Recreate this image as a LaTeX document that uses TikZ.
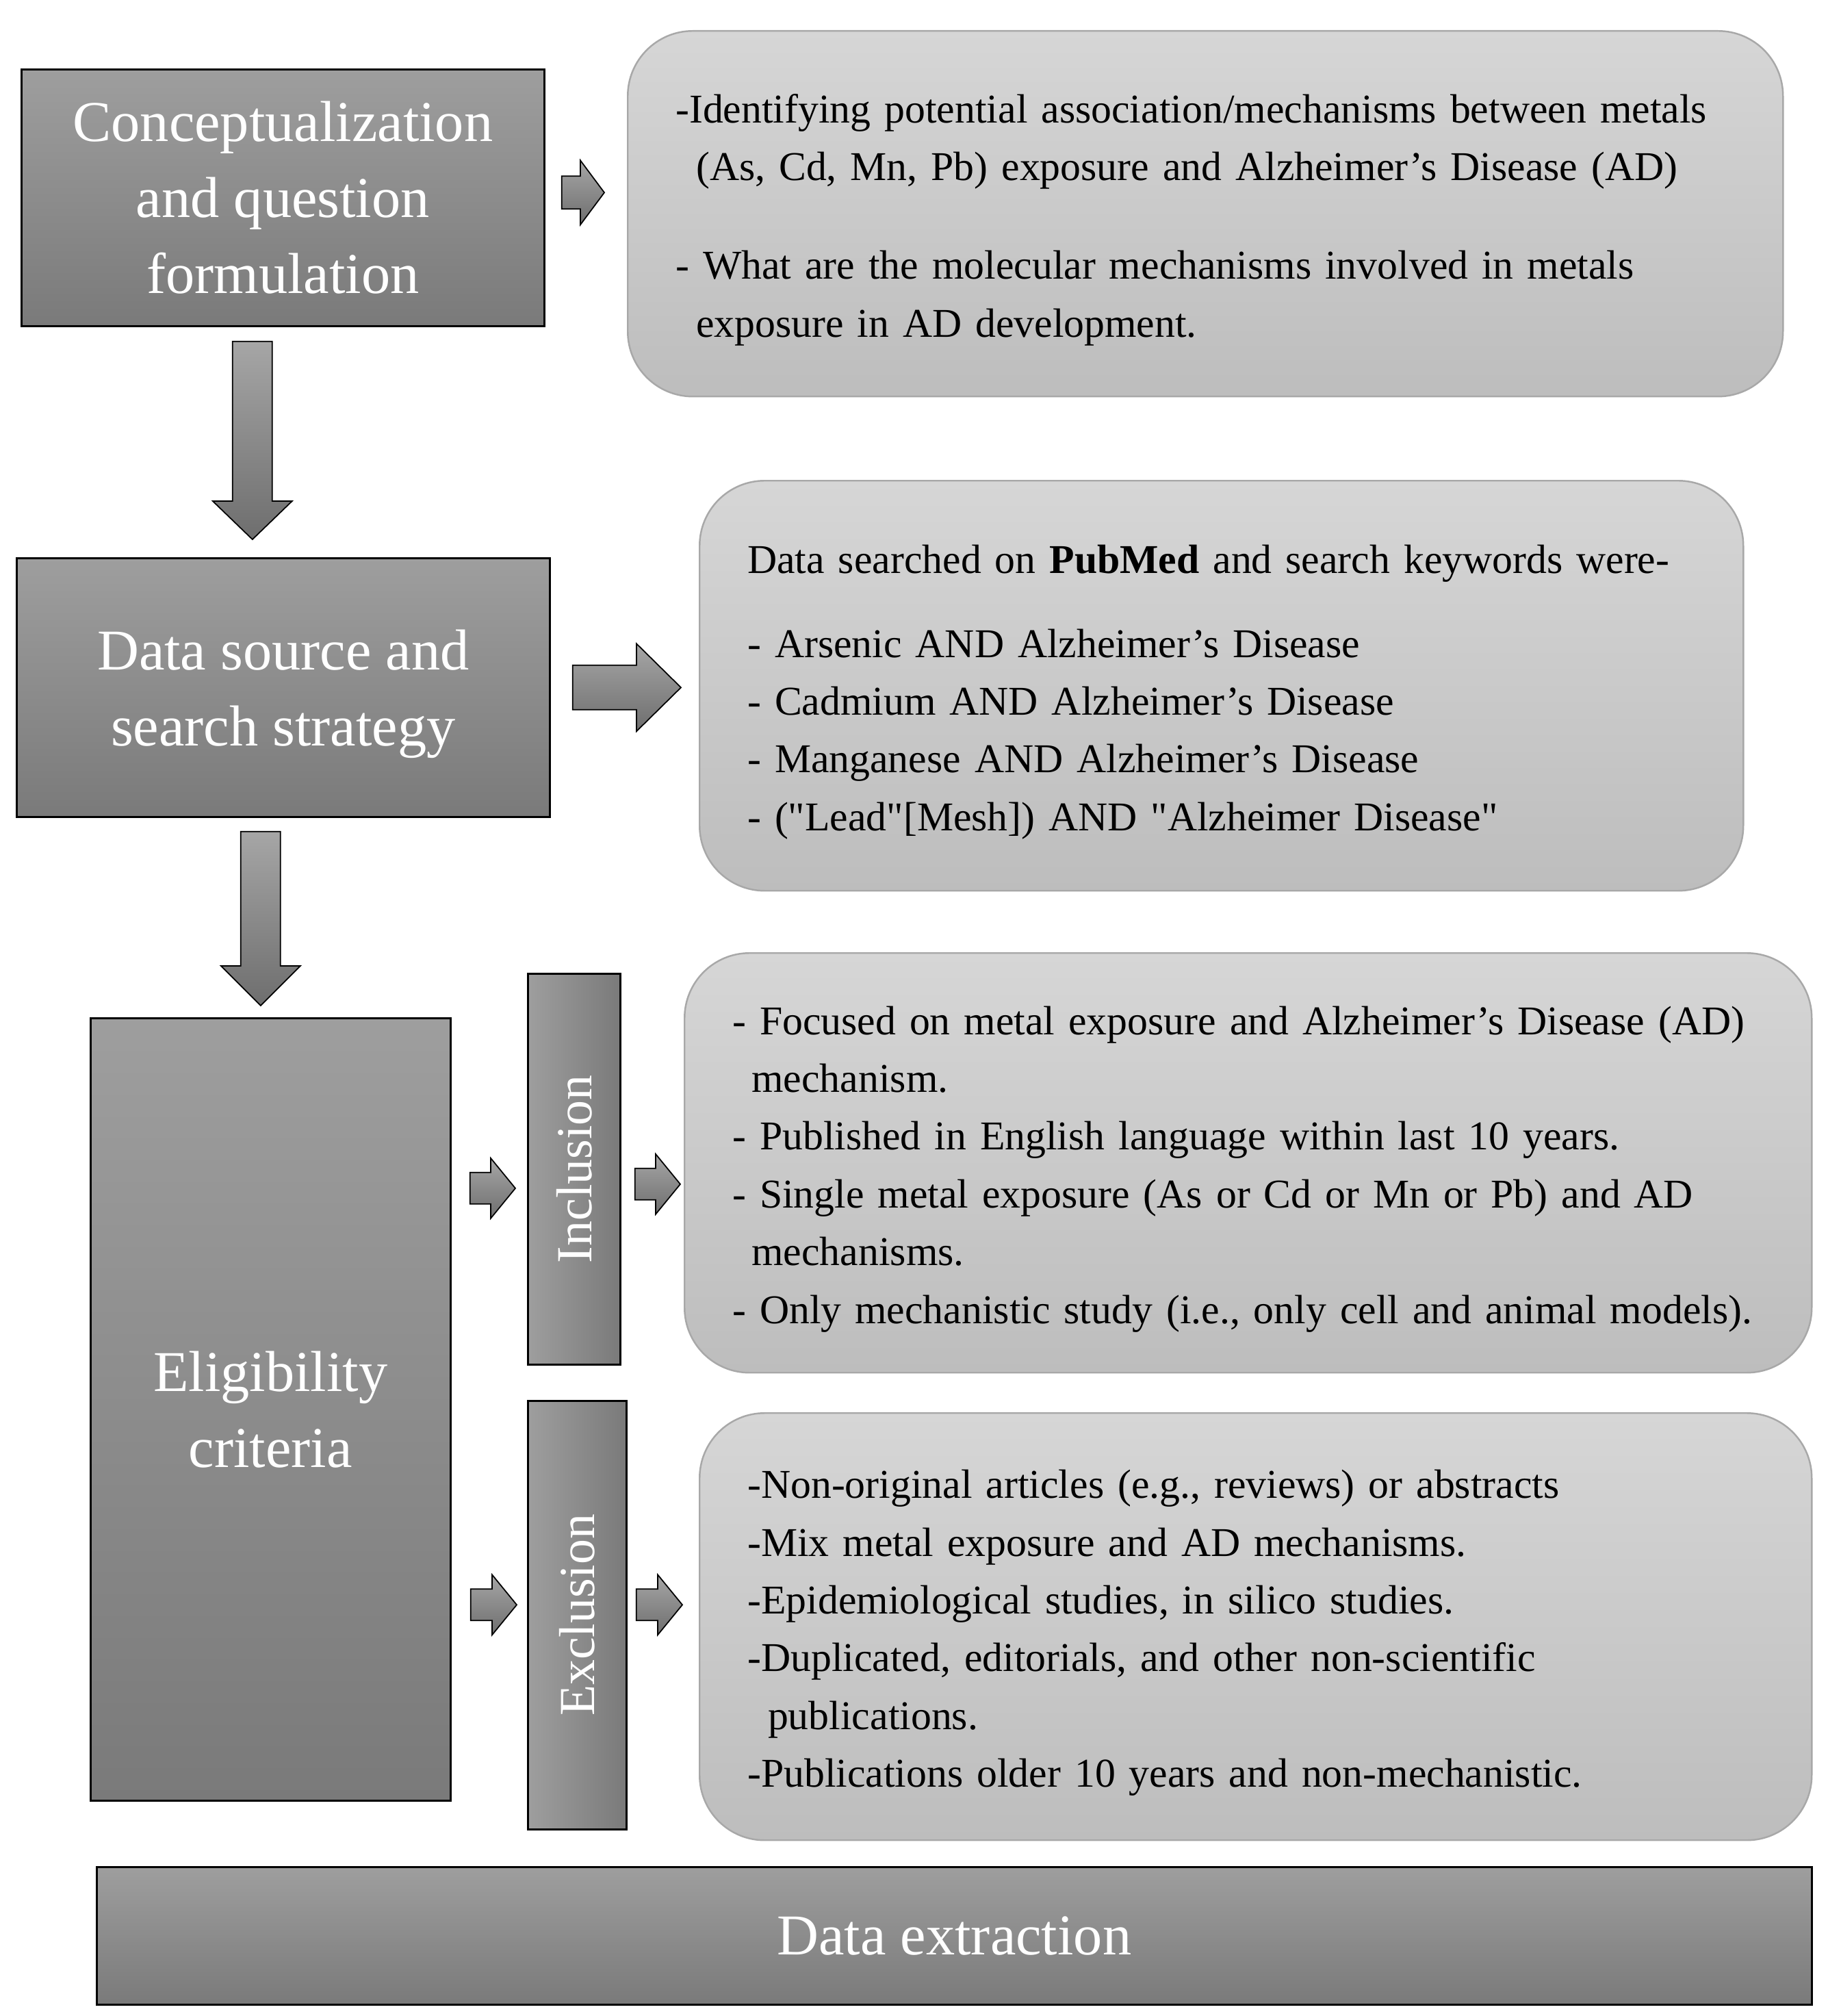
\documentclass[tikz,border=0pt]{standalone}
\usepackage{fontspec}
\setmainfont{Liberation Serif}
\newfontfamily\plainserif{Liberation Serif}
\usepackage{graphicx}
\usetikzlibrary{calc}

\definecolor{stagetop}{HTML}{9E9E9E}
\definecolor{stagebot}{HTML}{7A7A7A}
\definecolor{notetop}{HTML}{D6D6D6}
\definecolor{notebot}{HTML}{BDBDBD}
\definecolor{noteline}{HTML}{A8A8A8}
\definecolor{arrowtop}{HTML}{A6A6A6}
\definecolor{arrowbot}{HTML}{6E6E6E}

\begin{document}
\begin{tikzpicture}[
      stage/.style={draw=black, line width=0.75pt, top color=stagetop,
        bottom color=stagebot, text=white, align=center, inner sep=0pt,
        anchor=north west, font=\fontsize{24}{31.5}\selectfont},
      side/.style={draw=black, line width=0.75pt, left color=stagetop,
        right color=stagebot, text=white, inner sep=0pt,
        anchor=north west, font=\fontsize{21}{25}\selectfont},
      note/.style={draw=noteline, line width=0.7pt, rounded corners=0.95cm,
        top color=notetop, bottom color=notebot, align=left,
        inner xsep=0.7cm, inner ysep=0pt, anchor=north west,
        font=\fontsize{17}{24}\selectfont,
        execute at begin node={\rule{0pt}{17pt}}},
      arrowbody/.style={draw=black, line width=0.5pt, top color=arrowtop,
        bottom color=arrowbot},
      % #1 shaft width, #2 head width, #3 head length
      rightarrow/.style n args={3}{arrowbody, to path={
          let \p1=(\tikztostart), \p2=(\tikztotarget) in
          (\x1,\y1+#1/2) -- (\x2-#3,\y1+#1/2) -- (\x2-#3,\y1+#2/2) -- (\x2,\y1)
          -- (\x2-#3,\y1-#2/2) -- (\x2-#3,\y1-#1/2) -- (\x1,\y1-#1/2) -- cycle}},
      downarrow/.style n args={3}{arrowbody, to path={
          let \p1=(\tikztostart), \p2=(\tikztotarget) in
          (\x1-#1/2,\y1) -- (\x1-#1/2,\y2+#3) -- (\x1-#2/2,\y2+#3) -- (\x1,\y2)
          -- (\x1+#2/2,\y2+#3) -- (\x1+#1/2,\y2+#3) -- (\x1+#1/2,\y1) -- cycle}}]
    \useasboundingbox (0,0) rectangle (26.70,-29.45);

    % left column
    \node[stage, minimum width=7.64cm, minimum height=3.75cm] (concept)
      at (0.30,-1.00) {Conceptualization\\and question\\formulation};
    \node[stage, minimum width=7.79cm, minimum height=3.78cm] (source)
      at (0.23,-8.14) {\rule{0pt}{22pt}Data source and\\search strategy};
    \node[stage, minimum width=5.26cm, minimum height=11.43cm] (elig)
      at (1.31,-14.86) {Eligibility\\criteria};
    \node[side, minimum width=1.35cm, minimum height=5.71cm] (incl)
      at (7.70,-14.21) {\rotatebox{90}{Inclusion}};
    \node[side, minimum width=1.44cm, minimum height=6.26cm] (excl)
      at (7.70,-20.45) {\rotatebox{90}{Exclusion}};
    \node[stage, minimum width=25.06cm, minimum height=2.01cm] (extract)
      at (1.40,-27.26) {Data extraction};

    % right column
    \node[note, minimum height=5.34cm, text width=15.48cm] (goal)
      at (9.16,-0.44) {%
      -Identifying  potential association/mechanisms between metals\\
      \hspace*{8.5pt}(As, Cd, Mn, Pb) exposure and Alzheimer’s Disease (AD)\\[17pt]
      - What are the molecular mechanisms  involved in metals\\
      \hspace*{8.5pt}exposure in AD development.};
    \node[note, minimum height=5.99cm, text width=13.85cm] (search)
      at (10.21,-7.01) {%
      Data searched on \textbf{PubMed} and search keywords were-\\[11pt]
      - Arsenic AND Alzheimer’s Disease\\
      - Cadmium AND Alzheimer’s Disease\\
      - Manganese AND Alzheimer’s Disease\\
      {\plainserif - ("Lead"[Mesh]) AND "Alzheimer Disease"}};
    \node[note, minimum height=6.13cm, text width=15.07cm] (inclbox)
      at (9.99,-13.91) {%
      - Focused on metal exposure and Alzheimer’s Disease (AD)\\
      \hspace*{8pt}mechanism.\\
      - Published in English language within last 10 years.\\
      - Single metal exposure (As or Cd or Mn or Pb) and AD\\
      \hspace*{8pt}mechanisms.\\
      - Only mechanistic study (i.e., only cell and animal models).};
    \node[note, minimum height=6.24cm, text width=14.85cm] (exclbox)
      at (10.21,-20.63) {%
      -Non-original articles (e.g., reviews) or abstracts\\
      -Mix metal exposure and  AD mechanisms.\\
      -Epidemiological studies, in silico studies.\\
      -Duplicated, editorials, and other non-scientific\\
      \hspace*{8.5pt}publications.\\
      -Publications older 10 years and non-mechanistic.};

    % arrows
    \draw[downarrow={0.58cm}{1.16cm}{0.56cm}]
      ([xshift=-0.445cm, yshift=-0.21cm]concept.south) to ([yshift=0.26cm]source.north);
    \draw[downarrow={0.58cm}{1.16cm}{0.58cm}]
      ([xshift=-0.33cm, yshift=-0.20cm]source.south) to ([yshift=0.17cm]elig.north);
    \draw[rightarrow={0.48cm}{0.94cm}{0.35cm}]
      ([xshift=0.24cm, yshift=0.075cm]concept.east) to ([xshift=-0.33cm]goal.west);
    \draw[rightarrow={0.65cm}{1.28cm}{0.65cm}]
      ([xshift=0.32cm]source.east) to ([xshift=-0.26cm]search.west);
    \draw[rightarrow={0.46cm}{0.88cm}{0.36cm}]
      ([xshift=0.27cm, yshift=-0.28cm]elig.east |- incl.west) to ([xshift=-0.17cm]incl.west);
    \draw[rightarrow={0.46cm}{0.88cm}{0.36cm}]
      ([xshift=0.20cm, yshift=-0.22cm]incl.east) to ([xshift=-0.05cm]inclbox.west);
    \draw[rightarrow={0.46cm}{0.88cm}{0.36cm}]
      ([xshift=0.28cm, yshift=0.15cm]elig.east |- excl.west) to ([xshift=-0.15cm]excl.west);
    \draw[rightarrow={0.46cm}{0.88cm}{0.36cm}]
      ([xshift=0.13cm, yshift=0.15cm]excl.east) to ([xshift=-0.24cm]exclbox.west);
\end{tikzpicture}
\end{document}
